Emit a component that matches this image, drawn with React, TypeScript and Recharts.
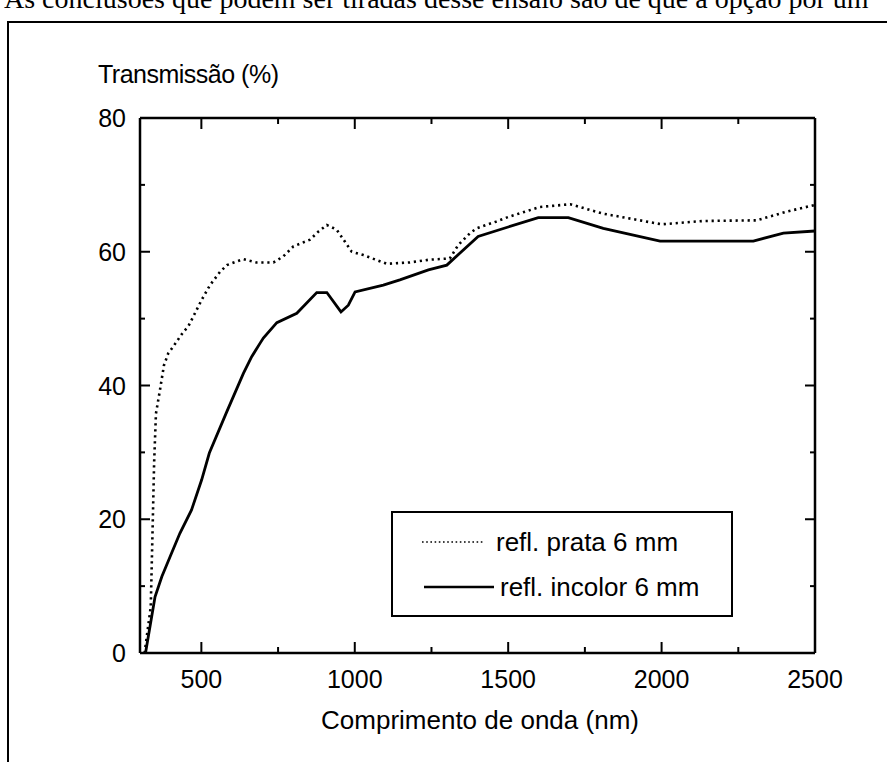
import React from 'react';
import { LineChart, Line, XAxis, YAxis, Legend } from 'recharts';

// refl. prata 6 mm (dotted)
const prataWl = [315, 335, 341, 346, 352, 365, 378, 392, 408, 441, 457, 501, 528, 561, 583, 637, 680, 735, 767, 800, 854, 881, 909, 941, 968, 990, 1028, 1104, 1180, 1240, 1310, 1337, 1376, 1397, 1460, 1500, 1604, 1702, 1809, 2000, 2135, 2310, 2408, 2500];
const prataT = [0, 6.9, 18.4, 28.4, 35.8, 39.3, 43, 44.8, 45.8, 48.0, 48.8, 52.8, 55.0, 57.0, 58.0, 58.9, 58.4, 58.4, 59.3, 60.8, 61.8, 63.0, 64.0, 63.3, 61.5, 60.0, 59.5, 58.2, 58.4, 58.8, 59.0, 61.0, 62.8, 63.5, 64.5, 65.2, 66.7, 67.1, 65.7, 64.1, 64.6, 64.7, 66.0, 67.0];

// refl. incolor 6 mm (solid)
const incolorWl = [318, 349, 371, 398, 430, 468, 501, 526, 583, 637, 664, 691, 702, 746, 811, 876, 909, 955, 979, 1001, 1093, 1147, 1240, 1300, 1402, 1500, 1598, 1696, 1810, 1995, 2299, 2397, 2500];
const incolorT = [0, 8.4, 11.4, 14.4, 17.9, 21.4, 25.9, 29.9, 36.1, 41.8, 44.3, 46.3, 47.1, 49.4, 50.8, 53.9, 53.9, 51.0, 52.0, 54.0, 55.0, 55.8, 57.3, 58.0, 62.3, 63.7, 65.1, 65.1, 63.5, 61.6, 61.6, 62.8, 63.1];

const xTicks = [500, 750, 1000, 1250, 1500, 1750, 2000, 2250, 2500];
const xLabels = [500, 1000, 1500, 2000, 2500];
const yTicks = [0, 10, 20, 30, 40, 50, 60, 70, 80];
const yLabels = [0, 20, 40, 60, 80];

const seriesNames = ['refl. prata 6 mm', 'refl. incolor 6 mm'];

const prata = prataWl.map((wl, i) => ({ wl, t: prataT[i] }));
const incolor = incolorWl.map((wl, i) => ({ wl, t: incolorT[i] }));

const font = '"Liberation Sans", Arial, sans-serif';
const W = 887;
const H = 762;
// axes are 1px wide/high, so plot box = 140..815 x 118..653
const margin = { top: 117, left: 139, right: 71, bottom: 108 };
const DOTS = '2.2 3.8';

const BottomTick = (props: any) => {
  const { x, y, payload } = props;
  const major = xLabels.includes(payload.value);
  return (
    <g>
      <line x1={x} x2={x} y1={y} y2={y - (major ? 11 : 6)} stroke="#000" strokeWidth={2} />
      {major && (
        <text x={x} y={y + 35} textAnchor="middle" fontSize={25} fontFamily={font} fill="#000">
          {payload.value}
        </text>
      )}
    </g>
  );
};

const TopTick = (props: any) => {
  const { x, y, payload } = props;
  const major = xLabels.includes(payload.value);
  return <line x1={x} x2={x} y1={y} y2={y + (major ? 11 : 6)} stroke="#000" strokeWidth={2} />;
};

const LeftTick = (props: any) => {
  const { x, y, payload } = props;
  const major = yLabels.includes(payload.value);
  return (
    <g>
      <line x1={x} x2={x + (major ? 10 : 5)} y1={y} y2={y} stroke="#000" strokeWidth={2} />
      {major && (
        <text x={x - 14} y={y} dy="0.36em" textAnchor="end" fontSize={25} fontFamily={font} fill="#000">
          {payload.value}
        </text>
      )}
    </g>
  );
};

const RightTick = (props: any) => {
  const { x, y, payload } = props;
  const major = yLabels.includes(payload.value);
  return <line x1={x} x2={x - (major ? 10 : 5)} y1={y} y2={y} stroke="#000" strokeWidth={2} />;
};

const LegendBox = () => (
  <svg width={342} height={106} style={{ display: 'block' }}>
    <rect x={1} y={1} width={340} height={104} fill="#fff" stroke="#000" strokeWidth={2} />
    <line x1={31} x2={94} y1={31} y2={31} stroke="#000" strokeWidth={1.6} strokeDasharray="1.6 2.6" />
    <text x={105} y={40} fontSize={26} fontFamily={font} fill="#000">{seriesNames[0]}</text>
    <line x1={33} x2={103} y1={76} y2={76} stroke="#000" strokeWidth={2.5} />
    <text x={109} y={85} fontSize={26} fontFamily={font} fill="#000">{seriesNames[1]}</text>
  </svg>
);

export default function App() {
  return (
    <div style={{ position: 'absolute', left: 0, top: 0, width: W, height: H, background: '#fff', overflow: 'hidden' }}>
      <svg width={W} height={H} style={{ position: 'absolute', left: 0, top: 0 }}>
        <text x={4} y={8} fontSize={28} fontFamily='"Liberation Serif", "Times New Roman", serif' fill="#000">
          As conclusões que podem ser tiradas desse ensaio são de que a opção por um
        </text>
        <line x1={8} x2={W} y1={22} y2={22} stroke="#000" strokeWidth={2} />
        <line x1={8} x2={8} y1={21} y2={H} stroke="#000" strokeWidth={2} />
      </svg>
      <div style={{ position: 'absolute', left: 0, top: 0 }}>
        <LineChart width={W} height={H} margin={margin}>
          <XAxis
            xAxisId="bottom"
            type="number"
            dataKey="wl"
            domain={[300, 2500]}
            ticks={xTicks}
            interval={0}
            allowDataOverflow
            height={1}
            tickSize={0}
            tickMargin={0}
            tick={<BottomTick />}
            tickLine={false}
            axisLine={{ stroke: '#000', strokeWidth: 2.5 }}
          />
          <XAxis
            xAxisId="top"
            orientation="top"
            type="number"
            dataKey="wl"
            domain={[300, 2500]}
            ticks={xTicks}
            interval={0}
            allowDataOverflow
            height={1}
            tickSize={0}
            tickMargin={0}
            tick={<TopTick />}
            tickLine={false}
            axisLine={{ stroke: '#000', strokeWidth: 2.5 }}
          />
          <YAxis
            yAxisId="left"
            type="number"
            domain={[0, 80]}
            ticks={yTicks}
            interval={0}
            allowDataOverflow
            width={1}
            tickSize={0}
            tickMargin={0}
            tick={<LeftTick />}
            tickLine={false}
            axisLine={{ stroke: '#000', strokeWidth: 2.5 }}
          />
          <YAxis
            yAxisId="right"
            orientation="right"
            type="number"
            domain={[0, 80]}
            ticks={yTicks}
            interval={0}
            allowDataOverflow
            width={1}
            tickSize={0}
            tickMargin={0}
            tick={<RightTick />}
            tickLine={false}
            axisLine={{ stroke: '#000', strokeWidth: 2.5 }}
          />
          <Line
            xAxisId="bottom"
            yAxisId="left"
            data={prata}
            dataKey="t"
            name={seriesNames[0]}
            type="linear"
            stroke="#000"
            strokeWidth={2.6}
            strokeDasharray={DOTS}
            dot={false}
            isAnimationActive={false}
          />
          <Line
            xAxisId="bottom"
            yAxisId="left"
            data={incolor}
            dataKey="t"
            name={seriesNames[1]}
            type="linear"
            stroke="#000"
            strokeWidth={2.8}
            dot={false}
            isAnimationActive={false}
          />
          <Legend
            layout="horizontal"
            align="center"
            verticalAlign="middle"
            content={() => <LegendBox />}
            wrapperStyle={{ left: 391, top: 511, width: 342 }}
          />
        </LineChart>
      </div>
      <svg width={W} height={H} style={{ position: 'absolute', left: 0, top: 0, pointerEvents: 'none' }}>
        <text x={98} y={83} fontSize={25} letterSpacing={-0.5} fontFamily={font} fill="#000">
          Transmissão (%)
        </text>
        <text x={480} y={729} textAnchor="middle" fontSize={26} fontFamily={font} fill="#000">
          Comprimento de onda (nm)
        </text>
      </svg>
    </div>
  );
}
